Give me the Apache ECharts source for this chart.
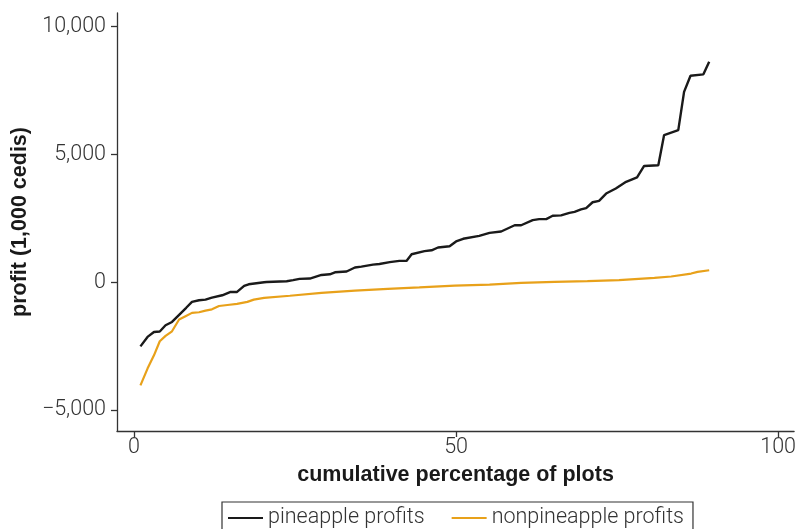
<!DOCTYPE html>
<html>
<head>
<meta charset="utf-8">
<script src="https://cdn.jsdelivr.net/npm/echarts@6/dist/echarts.min.js"></script>
<style>
  html, body { margin: 0; padding: 0; background: #fff; }
  #chart { width: 799px; height: 529px; }
</style>
</head>
<body>
<div id="chart"></div>
<script>
// cumulative percentage of plots (x) and profit in 1,000 cedis (y)
const pineX = [1.0, 2.1, 3.1, 4.0, 4.9, 5.9, 7.2, 8.1, 9.0, 10.1, 11.1, 12.1, 13.7, 15.0, 16.0, 17.1, 17.8, 20.2, 20.6, 23.7, 24.7, 25.7, 27.3, 29.1, 30.4, 31.2, 33.0, 34.3, 35.3, 37.1, 38.1, 39.7, 41.2, 42.3, 43.1, 45.1, 46.2, 47.2, 49.0, 50.0, 51.1, 53.6, 55.2, 57.0, 59.1, 60.1, 61.9, 62.9, 64.0, 65.0, 66.3, 67.6, 68.4, 69.4, 70.2, 71.2, 72.2, 73.3, 74.8, 76.4, 78.1, 79.2, 81.4, 82.3, 84.5, 85.4, 86.4, 88.4, 89.3];
const pineY = [-2510, -2140, -1945, -1930, -1685, -1555, -1225, -1000, -770, -705, -680, -600, -510, -380, -380, -145, -80, 0, 10, 40, 80, 130, 145, 285, 310, 390, 420, 575, 610, 690, 715, 785, 835, 835, 1095, 1215, 1250, 1360, 1410, 1595, 1700, 1815, 1930, 1985, 2230, 2230, 2430, 2470, 2470, 2600, 2615, 2715, 2755, 2850, 2900, 3130, 3185, 3470, 3670, 3930, 4100, 4550, 4580, 5760, 5950, 7450, 8080, 8135, 8630];

const nonX = [1.0, 2.1, 3.1, 4.0, 4.9, 5.9, 7.0, 8.0, 9.0, 10.1, 11.1, 12.1, 13.2, 14.5, 16.0, 17.6, 18.6, 20.2, 24.2, 29.1, 34.3, 39.4, 44.3, 49.8, 55.2, 60.1, 65.3, 70.4, 75.3, 80.8, 83.4, 86.5, 87.5, 89.3];
const nonY = [-4035, -3380, -2860, -2310, -2100, -1920, -1460, -1330, -1200, -1175, -1110, -1060, -930, -890, -850, -770, -680, -615, -530, -420, -330, -260, -200, -130, -90, -25, 10, 40, 80, 170, 225, 340, 405, 470];

const xTicks = [0, 50, 100];
const yTicks = [-5000, 0, 5000, 10000];

const seriesNames = ['pineapple profits', 'nonpineapple profits'];

const zip = (xs, ys) => xs.map((x, i) => [x, ys[i]]);

const FONT = 'Roboto';
const chart = echarts.init(document.getElementById('chart'), null, { renderer: 'canvas' });
chart.setOption({
  animation: false,
  backgroundColor: '#ffffff',
  grid: { left: 117, right: 4, top: 13, bottom: 98 },
  xAxis: {
    type: 'value',
    min: -2.64, max: 102.48,
    name: 'cumulative percentage of plots',
    nameLocation: 'middle',
    nameGap: 32,
    nameTextStyle: { fontFamily: 'Liberation Sans', fontWeight: 'bold', fontSize: 21.5, color: '#1a1a1a' },
    axisLine: { show: true, onZero: false, lineStyle: { color: '#333', width: 1.3 } },
    axisTick: { show: true, length: 6, customValues: xTicks, lineStyle: { color: '#333', width: 1.3 } },
    axisLabel: { customValues: xTicks, fontFamily: FONT, fontWeight: 300, fontSize: 21.5, color: '#333', margin: 6 },
    splitLine: { show: false }
  },
  yAxis: {
    type: 'value',
    min: -5822, max: 10536,
    name: 'profit (1,000 cedis)',
    nameLocation: 'middle',
    nameGap: 81,
    nameTextStyle: { fontFamily: 'Liberation Sans', fontWeight: 'bold', fontSize: 21.5, color: '#1a1a1a' },
    axisLine: { show: true, onZero: false, lineStyle: { color: '#333', width: 1.3 } },
    axisTick: { show: true, length: 6, customValues: yTicks, lineStyle: { color: '#333', width: 1.3 } },
    axisLabel: {
      customValues: yTicks, fontFamily: FONT, fontWeight: 300, fontSize: 21.5, color: '#333', margin: 11,
      formatter: v => (v < 0 ? '\u2212' : '') + Math.abs(v).toLocaleString('en-US')
    },
    splitLine: { show: false }
  },
  legend: {
    left: 222, top: 502,
    padding: [5, 9, 8, 6],
    borderColor: '#333', borderWidth: 1.2,
    icon: 'rect',
    itemWidth: 35, itemHeight: 2, itemGap: 27,
    textStyle: { fontFamily: FONT, fontWeight: 300, fontSize: 21.5, color: '#333' },
    data: seriesNames
  },
  series: [
    {
      name: seriesNames[0], type: 'line', symbol: 'none',
      data: zip(pineX, pineY),
      lineStyle: { color: '#1a1a1a', width: 2.4 }, itemStyle: { color: '#1a1a1a' }
    },
    {
      name: seriesNames[1], type: 'line', symbol: 'none',
      data: zip(nonX, nonY),
      lineStyle: { color: '#e8a11a', width: 2.2 }, itemStyle: { color: '#e8a11a' }
    }
  ]
});
</script>
</body>
</html>
